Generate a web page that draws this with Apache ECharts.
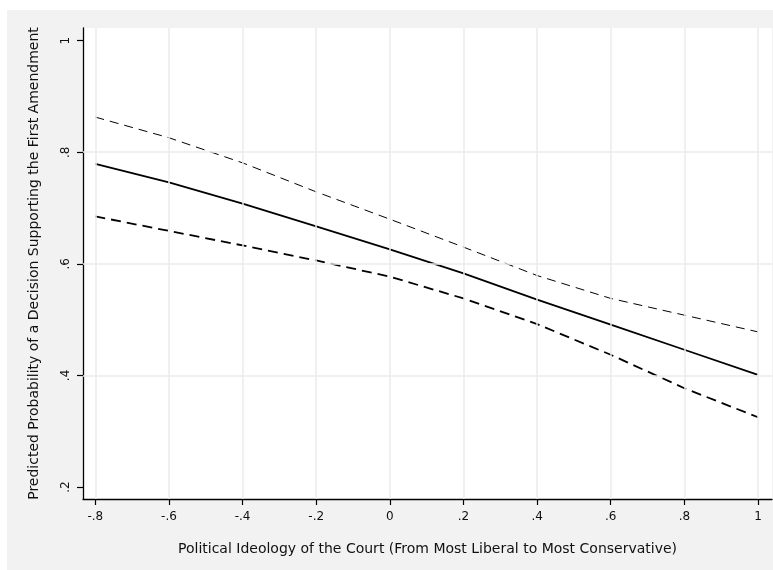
<!DOCTYPE html>
<html>
<head>
<meta charset="utf-8">
<script src="https://cdn.jsdelivr.net/npm/echarts@6/dist/echarts.min.js"></script>
<style>
html,body{margin:0;padding:0;background:#fff;}
#c{width:773px;height:570px;}
</style>
</head>
<body>
<div id="c"></div>
<script>
const xValues = [-0.8, -0.6, -0.4, -0.2, 0, 0.2, 0.4, 0.6, 0.8, 1];
const predicted = [0.779, 0.746, 0.708, 0.667, 0.626, 0.583, 0.536, 0.491, 0.446, 0.401];
const upperCI = [0.863, 0.826, 0.781, 0.729, 0.680, 0.630, 0.579, 0.538, 0.508, 0.478];
const lowerCI = [0.685, 0.659, 0.633, 0.606, 0.577, 0.538, 0.492, 0.437, 0.377, 0.325];
const xTicks = [-0.8, -0.6, -0.4, -0.2, 0, 0.2, 0.4, 0.6, 0.8, 1];
const yTicks = [0.2, 0.4, 0.6, 0.8, 1];
const xTickLabels = ['-.8', '-.6', '-.4', '-.2', '0', '.2', '.4', '.6', '.8', '1'];
const yTickLabels = ['.2', '.4', '.6', '.8', '1'];
const yGrid = [0.4, 0.6, 0.8];
const xTitle = 'Political Ideology of the Court (From Most Liberal to Most Conservative)';
const yTitle = 'Predicted Probability of a Decision Supporting the First Amendment';

function labelFor(ticks, labels) {
  return function (v) {
    for (let i = 0; i < ticks.length; i++) {
      if (Math.abs(ticks[i] - v) < 1e-6) return labels[i];
    }
    return '';
  };
}
const pairs = arr => xValues.map((x, i) => [x, arr[i]]);
const FONT = '"DejaVu Sans", sans-serif';

const chart = echarts.init(document.getElementById('c'), null, {renderer: 'canvas'});
chart.setOption({
  animation: false,
  backgroundColor: '#ffffff',
  graphic: [{
    type: 'rect', z: -10, silent: true,
    shape: {x: 7, y: 10, width: 766, height: 560},
    style: {fill: '#f2f2f2'}
  }],
  grid: {left: 83, top: 28, width: 689, height: 471, show: true, backgroundColor: '#ffffff', borderWidth: 0},
  xAxis: {
    type: 'value', min: -0.8335, max: 1.038,
    name: xTitle, nameLocation: 'middle', nameGap: 43,
    nameTextStyle: {fontFamily: FONT, fontSize: 14, color: '#111'},
    axisLine: {show: true, onZero: false, lineStyle: {color: '#000', width: 1.3}},
    axisTick: {show: true, customValues: xTicks, length: 6, lineStyle: {color: '#000', width: 1.2}},
    axisLabel: {customValues: xTicks, formatter: labelFor(xTicks, xTickLabels), showMinLabel: true, showMaxLabel: true,
      fontFamily: FONT, fontSize: 12, color: '#111', margin: 12},
    splitLine: {show: false}
  },
  yAxis: {
    type: 'value', min: 0.1785, max: 1.0227,
    name: yTitle, nameLocation: 'middle', nameGap: 42, nameRotate: 90,
    nameTextStyle: {fontFamily: FONT, fontSize: 14, color: '#111'},
    axisLine: {show: true, onZero: false, lineStyle: {color: '#000', width: 1.3}},
    axisTick: {show: true, customValues: yTicks, length: 6, lineStyle: {color: '#000', width: 1.2}},
    axisLabel: {customValues: yTicks, formatter: labelFor(yTicks, yTickLabels), rotate: 90,
      fontFamily: FONT, fontSize: 12, color: '#111', margin: 11},
    splitLine: {show: false}
  },
  series: [
    {
      type: 'line', data: [], z: 1, silent: true,
      markLine: {
        silent: true, symbol: ['none', 'none'], label: {show: false},
        lineStyle: {color: '#ebebeb', width: 1.5, type: 'solid'},
        data: xTicks.map(v => ({xAxis: v})).concat(yGrid.map(v => ({yAxis: v})))
      }
    },
    {
      type: 'line', data: pairs(upperCI), z: 3, symbol: 'none',
      lineStyle: {color: '#000', width: 1, type: [9, 6]}
    },
    {
      type: 'line', data: pairs(predicted), z: 3, symbol: 'none',
      lineStyle: {color: '#000', width: 1.8, type: 'solid'}
    },
    {
      type: 'line', data: pairs(lowerCI), z: 3, symbol: 'none',
      lineStyle: {color: '#000', width: 1.8, type: [10, 6]}
    }
  ]
});
</script>
</body>
</html>
